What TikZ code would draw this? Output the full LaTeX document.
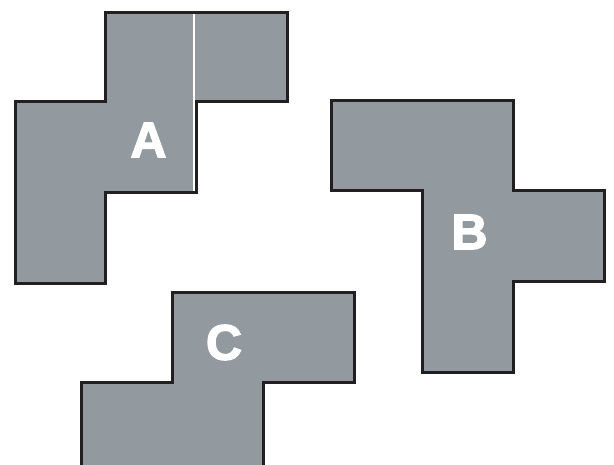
\documentclass[tikz,border=0pt]{standalone}
\usepackage{fontspec}
\newfontfamily\piecefont{Liberation Sans}[BoldFeatures={FakeBold=2.5}]
\definecolor{piecegray}{RGB}{147,154,159}
\definecolor{edgeblack}{RGB}{35,31,32}

\begin{document}
\begin{tikzpicture}[
      x=1pt, y=-1pt,
      piece/.style={fill=piecegray, draw=edgeblack, line width=3pt, line join=miter},
      seam/.style={draw=white, line width=2pt},
      letter/.style={text=white, inner sep=0pt, font=\piecefont\bfseries\fontsize{50}{50}\selectfont}
    ]
    \useasboundingbox (0,0) rectangle (614,465);
    \clip (0,0) rectangle (614,465);

    % piece A
    \fill[piecegray] (105.5,12.5) -- (287.5,12.5) -- (287.5,102) -- (196,102) -- (196,192.5)
      -- (105.5,192.5) -- (105.5,284) -- (15.5,284) -- (15.5,102) -- (105.5,102) -- cycle;
    \draw[seam] (194.4,13) -- (194.4,192);
    \draw[piece, fill=none] (105.5,12.5) -- (287.5,12.5) -- (287.5,102) -- (196,102) -- (196,192.5)
      -- (105.5,192.5) -- (105.5,284) -- (15.5,284) -- (15.5,102) -- (105.5,102) -- cycle;

    % piece B
    \draw[piece] (331.5,100.5) -- (513.5,100.5) -- (513.5,190.5) -- (604.5,190.5) -- (604.5,281.5)
      -- (513.5,281.5) -- (513.5,372.5) -- (422.5,372.5) -- (422.5,190.5) -- (331.5,190.5) -- cycle;

    % piece C
    \draw[piece] (172.8,292.5) -- (354.5,292.5) -- (354.5,382.5) -- (263.5,382.5) -- (263.5,474)
      -- (81.7,474) -- (81.7,382.5) -- (172.8,382.5) -- cycle;

    \node[letter] (labA) at (148.5,140) {A};
    \node[letter] (labB) at (469.5,232) {B};
    \node[letter] (labC) at (224,342.5) {C};

  \end{tikzpicture}
\end{document}
